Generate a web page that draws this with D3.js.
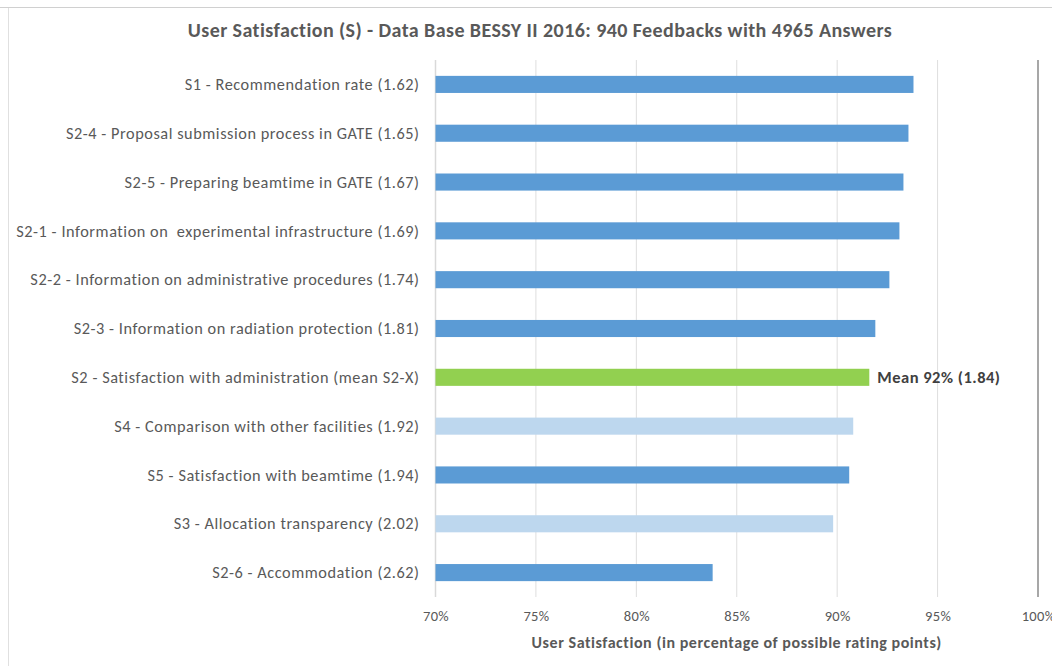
<!DOCTYPE html>
<html>
<head>
<meta charset="utf-8">
<script src="https://cdn.jsdelivr.net/npm/d3@7"></script>
<style>
  body { margin: 0; background: #fff; }
  svg text { font-family: Carlito, Calibri, Lato, "Liberation Sans", sans-serif; white-space: pre; }
</style>
</head>
<body>
<div id="chart"></div>
<script>
var labels = [
  "S1 - Recommendation rate (1.62)",
  "S2-4 - Proposal submission process in GATE (1.65)",
  "S2-5 - Preparing beamtime in GATE (1.67)",
  "S2-1 - Information on  experimental infrastructure (1.69)",
  "S2-2 - Information on administrative procedures (1.74)",
  "S2-3 - Information on radiation protection (1.81)",
  "S2 - Satisfaction with administration (mean S2-X)",
  "S4 - Comparison with other facilities (1.92)",
  "S5 - Satisfaction with beamtime (1.94)",
  "S3 - Allocation transparency (2.02)",
  "S2-6 - Accommodation (2.62)"
];
var values = [93.8, 93.55, 93.3, 93.1, 92.6, 91.9, 91.6, 90.8, 90.6, 89.8, 83.8];
var kinds = ["main", "main", "main", "main", "main", "main", "mean", "light", "main", "light", "main"];
var ticks = [70, 75, 80, 85, 90, 95, 100];
var meanLabel = "Mean 92% (1.84)";

var W = 1052, H = 666;
var margin = { top: 60, right: 14, bottom: 69, left: 435.5 };

var kindColor = d3.scaleOrdinal()
  .domain(["main", "mean", "light"])
  .range(["#5b9bd5", "#92d050", "#bdd7ee"]);

var svg = d3.select("#chart").append("svg")
  .attr("width", W)
  .attr("height", H);

// frame edges of the chart window
svg.append("line").attr("x1", 0).attr("x2", W).attr("y1", 7.5).attr("y2", 7.5)
  .attr("stroke", "#d0d0d0");
svg.append("line").attr("x1", 8.5).attr("x2", 8.5).attr("y1", 8).attr("y2", H)
  .attr("stroke", "#e0e0e0");

var x = d3.scaleLinear().domain([70, 100]).range([margin.left, 1038]);
var y = d3.scaleBand().domain(labels)
  .range([margin.top, H - margin.bottom])
  .paddingInner(0.65).paddingOuter(0.325);

// gridlines
svg.append("g")
  .selectAll("line")
  .data(ticks.slice(1, -1))
  .enter().append("line")
  .attr("x1", d => x(d)).attr("x2", d => x(d))
  .attr("y1", margin.top).attr("y2", H - margin.bottom)
  .attr("stroke", "#dedede")
  .attr("stroke-width", 1);

// right edge line
svg.append("line")
  .attr("x1", x(100)).attr("x2", x(100))
  .attr("y1", margin.top).attr("y2", H - margin.bottom)
  .attr("stroke", "#8a8a8a").attr("stroke-width", 1.5);

// category axis line
svg.append("line")
  .attr("x1", x(70)).attr("x2", x(70))
  .attr("y1", margin.top).attr("y2", H - margin.bottom)
  .attr("stroke", "#d9d9d9").attr("stroke-width", 1.5);

// bars
svg.append("g")
  .selectAll("rect")
  .data(labels)
  .enter().append("rect")
  .attr("x", x(70))
  .attr("y", d => y(d))
  .attr("width", (d, i) => x(values[i]) - x(70))
  .attr("height", y.bandwidth())
  .attr("fill", (d, i) => kindColor(kinds[i]));

// category labels
svg.append("g")
  .selectAll("text")
  .data(labels)
  .enter().append("text")
  .attr("x", x(70) - 16)
  .attr("y", d => y(d) + y.bandwidth() / 2)
  .attr("dy", "0.35em")
  .attr("text-anchor", "end")
  .style("font-size", "16.3px")
  .style("letter-spacing", "0.55px")
  .style("fill", "#595959")
  .text(d => d);

// mean label
var mi = kinds.indexOf("mean");
svg.append("text")
  .attr("x", x(values[mi]) + 8)
  .attr("y", y(labels[mi]) + y.bandwidth() / 2)
  .attr("dy", "0.35em")
  .style("font-size", "16.5px")
  .style("letter-spacing", "0.5px")
  .style("font-weight", "bold")
  .style("fill", "#404040")
  .text(meanLabel);

// x axis
var xAxis = svg.append("g")
  .attr("transform", "translate(0," + (H - margin.bottom) + ")")
  .call(d3.axisBottom(x).tickValues(ticks).tickSize(0).tickPadding(14)
    .tickFormat(d => d + "%"));
xAxis.select(".domain").remove();
xAxis.selectAll("text")
  .style("font-size", "14.5px")
  .style("letter-spacing", "0.3px")
  .style("fill", "#595959");

// axis title
svg.append("text")
  .attr("x", (x(70) + x(100)) / 2)
  .attr("y", 648)
  .attr("text-anchor", "middle")
  .style("font-size", "16px")
  .style("letter-spacing", "0.55px")
  .style("font-weight", "bold")
  .style("fill", "#595959")
  .text("User Satisfaction (in percentage of possible rating points)");

// title
svg.append("text")
  .attr("x", 540)
  .attr("y", 37)
  .attr("text-anchor", "middle")
  .style("font-size", "20px")
  .style("letter-spacing", "0.42px")
  .style("font-weight", "bold")
  .style("fill", "#595959")
  .text("User Satisfaction (S) - Data Base BESSY II 2016: 940 Feedbacks with 4965 Answers");
</script>
</body>
</html>
